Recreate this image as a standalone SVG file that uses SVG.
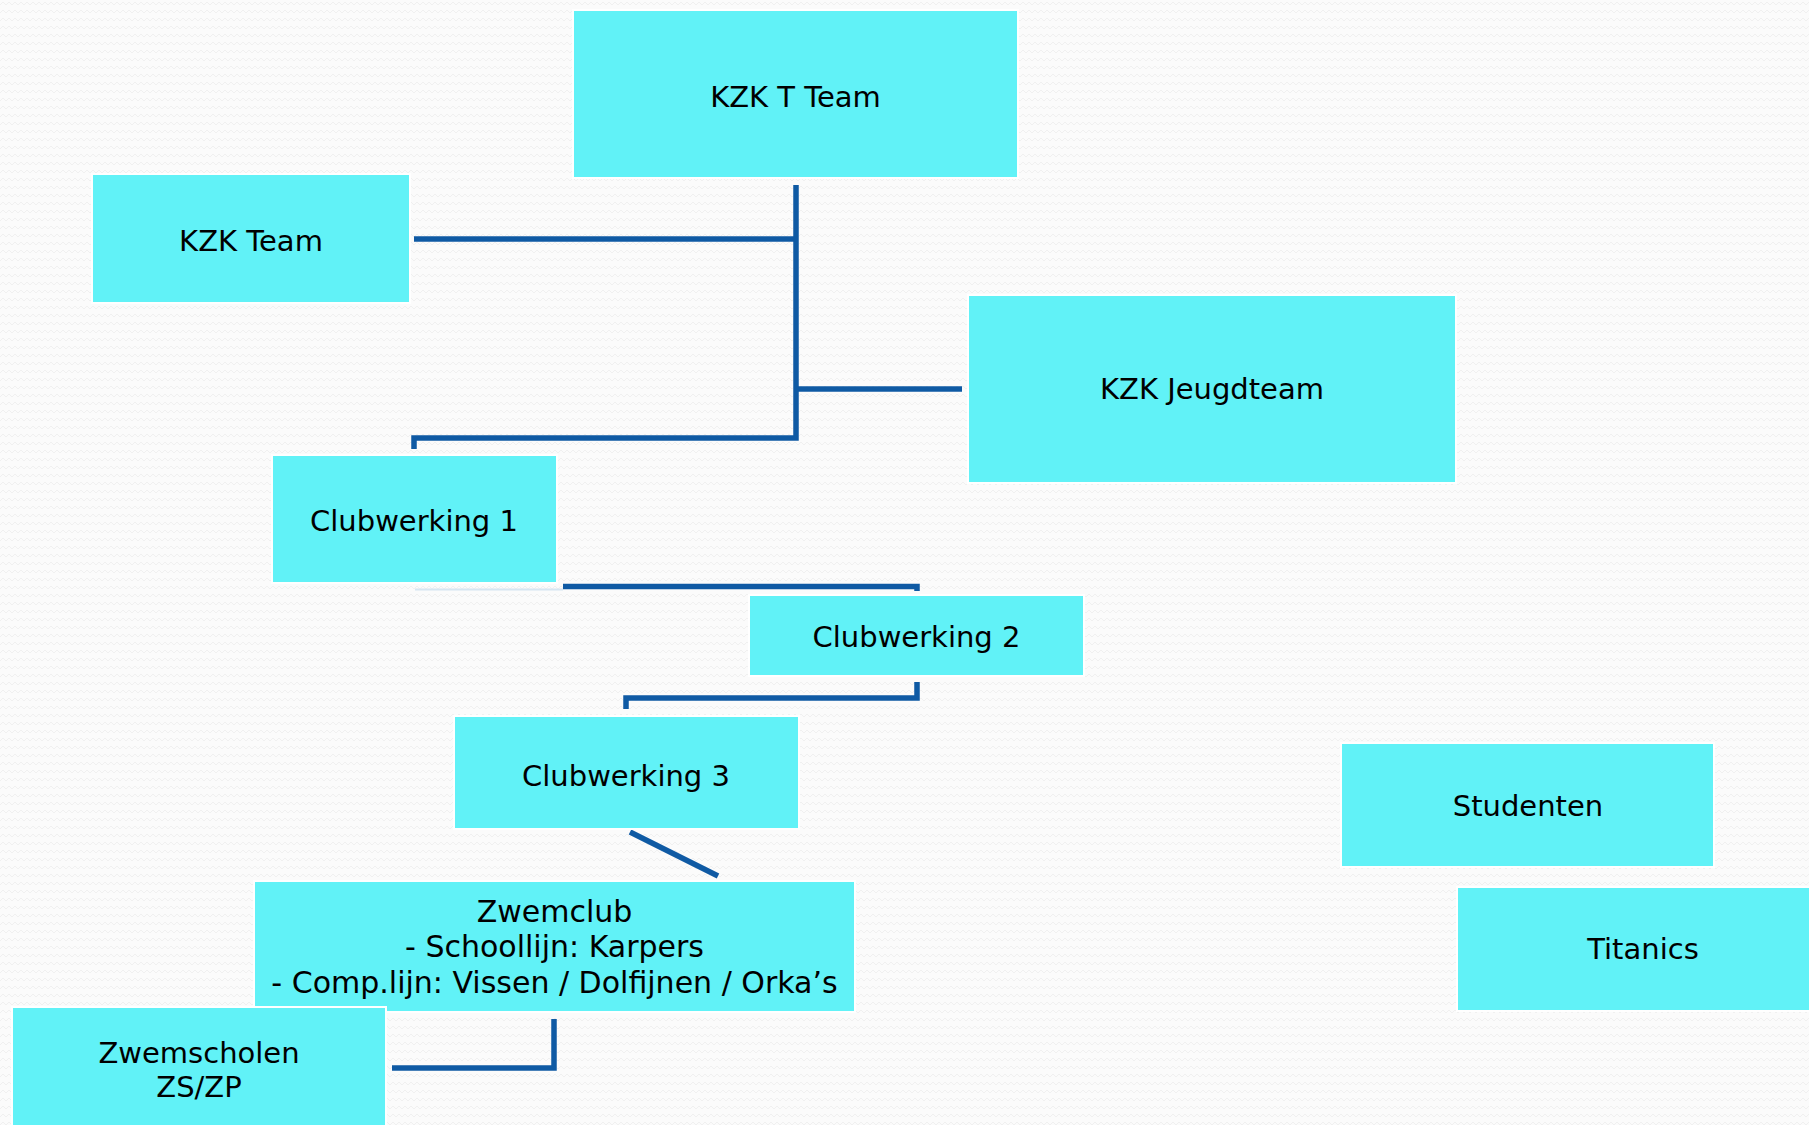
<svg xmlns="http://www.w3.org/2000/svg" width="1809" height="1125" viewBox="0 0 1809 1125">
<defs>
<pattern id="bg" width="12" height="8" patternUnits="userSpaceOnUse">
<path d="M0,5 L3,2 L6,5 L9,2 L12,5" fill="none" stroke="#f0f0f0" stroke-width="1"/>
</pattern>
</defs>
<style>
.node{fill:#61f2f7;stroke:#ffffff;stroke-width:2}
.lbl{font-family:"DejaVu Sans","Verdana",sans-serif;font-size:29px;fill:#000000;text-anchor:middle}
.zc{font-size:30px}
.conn{fill:none;stroke:#0f5aa4;stroke-width:5.5;stroke-linejoin:miter;stroke-linecap:butt}
</style>
<rect x="0" y="0" width="1809" height="1125" fill="#fbfbfb"/>
<rect x="0" y="0" width="1809" height="1125" fill="url(#bg)"/>
<g id="connectors">
<path class="conn" d="M796,185 V438 H414 V449"/>
<path class="conn" d="M414,239 H796"/>
<path class="conn" d="M796,389 H962"/>
<path d="M415,589.5 H563" fill="none" stroke="#d6e6f2" stroke-width="2"/>
<path class="conn" d="M563,586.5 H917 V591"/>
<path class="conn" d="M917,682 V698 H626 V709"/>
<path class="conn" d="M630,832 L718,876" stroke-width="6.5"/>
<path class="conn" d="M554,1019 V1068 H392"/>
</g>
<g id="kzk-t-team">
<rect class="node" x="573" y="10" width="445" height="168"/>
<text class="lbl" x="795.5" y="107">KZK T Team</text>
</g>
<g id="kzk-team">
<rect class="node" x="92" y="174" width="318" height="129"/>
<text class="lbl" x="251" y="251">KZK Team</text>
</g>
<g id="kzk-jeugdteam">
<rect class="node" x="968" y="295" width="488" height="188"/>
<text class="lbl" x="1212" y="399">KZK Jeugdteam</text>
</g>
<g id="clubwerking-1">
<rect class="node" x="272" y="455" width="285" height="128"/>
<text class="lbl" x="414" y="531">Clubwerking 1</text>
</g>
<g id="clubwerking-2">
<rect class="node" x="749" y="595" width="335" height="81"/>
<text class="lbl" x="916.5" y="647">Clubwerking 2</text>
</g>
<g id="clubwerking-3">
<rect class="node" x="454" y="716" width="345" height="113"/>
<text class="lbl" x="626" y="786">Clubwerking 3</text>
</g>
<g id="zwemclub">
<rect class="node" x="254" y="881" width="601" height="131"/>
<text class="lbl zc" x="554.5" y="922">Zwemclub</text>
<text class="lbl zc" x="554.5" y="957">- Schoollijn: Karpers</text>
<text class="lbl zc" x="554.5" y="993">- Comp.lijn: Vissen / Dolfijnen / Orka’s</text>
</g>
<g id="zwemscholen">
<rect class="node" x="12" y="1007" width="374" height="125"/>
<text class="lbl" x="199" y="1063">Zwemscholen</text>
<text class="lbl" x="199" y="1097">ZS/ZP</text>
</g>
<g id="studenten">
<rect class="node" x="1341" y="743" width="373" height="124"/>
<text class="lbl" x="1528" y="816">Studenten</text>
</g>
<g id="titanics">
<rect class="node" x="1457" y="887" width="372" height="124"/>
<text class="lbl" x="1643" y="959">Titanics</text>
</g>
</svg>
